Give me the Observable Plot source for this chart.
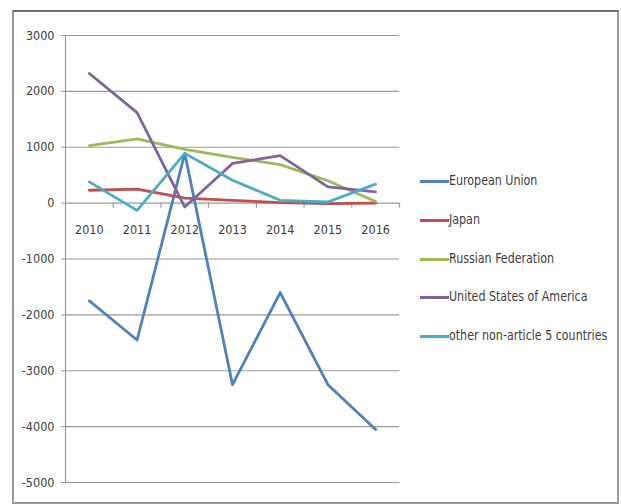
<!DOCTYPE html>
<html>
<head>
<meta charset="utf-8">
<script src="https://cdn.jsdelivr.net/npm/d3@7"></script>
<script src="https://cdn.jsdelivr.net/npm/@observablehq/plot@0.6"></script>
<style>
  html, body { margin: 0; padding: 0; background: #fff; }
  #wrap { position: relative; width: 621px; height: 504px; overflow: hidden; }
  #frame {
    position: absolute; left: 12px; top: 10px; width: 603px; height: 490px;
    border: 2px solid #9a9a9a; border-top-color: #6f6f6f;
    pointer-events: none;
  }
  #chart { position: absolute; left: 0; top: 0; }
  #legend { position: absolute; left: 420px; top: 171px; }
  .item { position: absolute; left: 0; height: 20px; white-space: nowrap;
          font-family: "Liberation Sans Narrow", "DejaVu Sans Condensed", sans-serif;
          font-size: 14px; color: #404040; }
  .swatch { position: absolute; left: 0; top: 9px; width: 29px; height: 3px; }
  .label { position: absolute; left: 29px; top: 1px; transform: scaleX(0.88); transform-origin: 0 50%; }
</style>
</head>
<body>
<div id="wrap">
  <div id="chart"></div>
  <div id="legend"></div>
  <div id="frame"></div>
</div>
<script>
// Years on the category axis
const years = [2010, 2011, 2012, 2013, 2014, 2015, 2016];

// Series names and values per year
const seriesNames = [
  "European Union",
  "Japan",
  "Russian Federation",
  "United States of America",
  "other non-article 5 countries"
];
const europeanUnion = [-1750, -2450, 890, -3250, -1600, -3250, -4050];
const japan         = [230, 250, 90, 50, 10, -10, 0];
const russia        = [1030, 1150, 960, 820, 690, 400, 30];
const usa           = [2320, 1620, -70, 710, 850, 290, 200];
const otherNonArt5  = [380, -130, 890, 410, 50, 20, 340];

// Y axis tick values
const yTicks = [3000, 2000, 1000, 0, -1000, -2000, -3000, -4000, -5000];

const seriesColors = ["#4f81bd", "#c0504d", "#9bbb59", "#8064a2", "#4bacc6"];
const seriesValues = [europeanUnion, japan, russia, usa, otherNonArt5];

const rows = seriesNames.flatMap((name, i) =>
  years.map((year, j) => ({series: name, year, value: seriesValues[i][j]}))
);

// Category boundaries (tick marks sit between the years)
const boundaries = d3.range(years.length + 1).map(i => years[0] - 0.5 + i);

const font = `"Liberation Sans Narrow", "DejaVu Sans Condensed", sans-serif`;

const chart = Plot.plot({
  width: 621,
  height: 504,
  marginLeft: 65,
  marginRight: 222,
  marginTop: 35,
  marginBottom: 22,
  style: {fontFamily: font, fontSize: "12.5px", color: "#404040", background: "transparent"},
  x: {domain: [years[0] - 0.5, years[years.length - 1] + 0.5], axis: null},
  y: {domain: [-5000, 3000], axis: null},
  color: {domain: seriesNames, range: seriesColors},
  marks: [
    Plot.gridY(yTicks, {stroke: "#9a9a9a", strokeOpacity: 1, strokeWidth: 1.2}),
    Plot.ruleX([boundaries[0]], {y1: -5000, y2: 3000, stroke: "#9a9a9a", strokeWidth: 1.2}),
    Plot.axisY(yTicks, {
      tickSize: 4, tickPadding: 7, stroke: "#9a9a9a", strokeOpacity: 1, label: null,
      tickFormat: d => String(d), fill: "#404040", fontSize: 12.5
    }),
    Plot.ruleX(boundaries.slice(1), {y1: 0, y2: 0, insetBottom: -5, stroke: "#9a9a9a", strokeWidth: 1.2}),
    Plot.text(years, {x: d => d, y: 0, dy: 27, text: d => String(d), fill: "#404040", fontSize: 12.5}),
    Plot.line(rows, {
      x: "year", y: "value", z: "series", stroke: "series",
      strokeWidth: 2.8, strokeLinejoin: "round", strokeLinecap: "round"
    })
  ]
});
document.getElementById("chart").append(chart);

// Legend to the right of the plot
const legend = d3.select("#legend");
seriesNames.forEach((name, i) => {
  const item = legend.append("div").attr("class", "item").style("top", `${i * 38.8}px`);
  item.append("div").attr("class", "swatch").style("background", seriesColors[i]);
  item.append("div").attr("class", "label").text(name);
});
</script>
</body>
</html>
